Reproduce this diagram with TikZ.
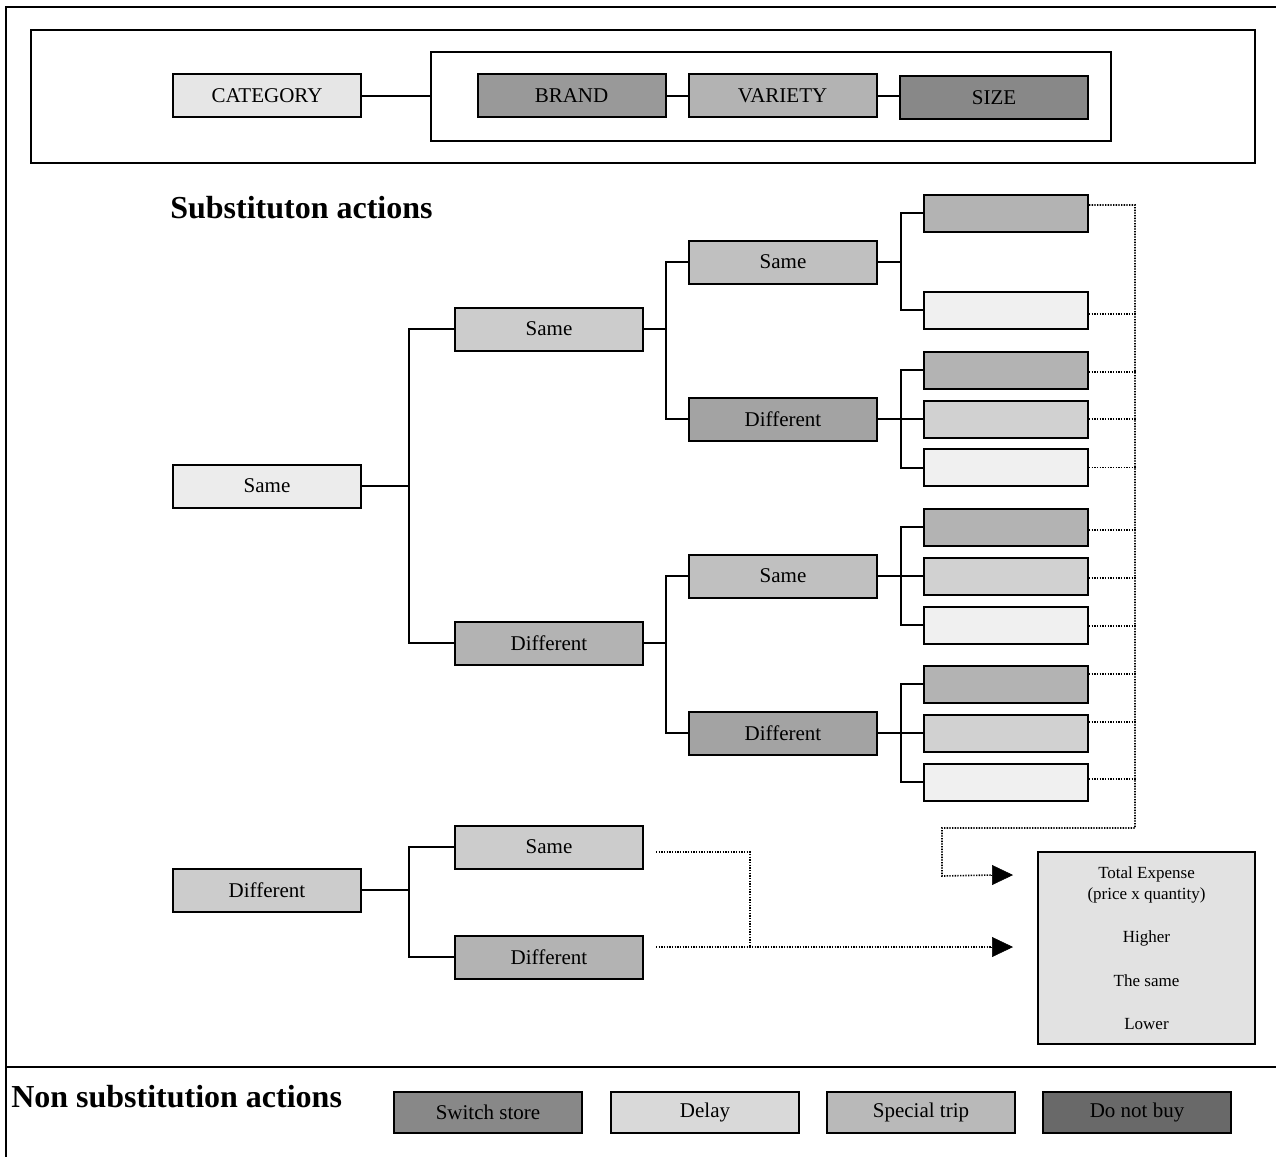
\documentclass[tikz,border=0pt]{standalone}
\usepackage{fontspec}
\setmainfont{Liberation Serif}
\usetikzlibrary{arrows.meta,calc}
\definecolor{cA}{HTML}{E6E6E6}
\definecolor{cB}{HTML}{999999}
\definecolor{cV}{HTML}{B3B3B3}
\definecolor{cS}{HTML}{888888}
\definecolor{gL}{HTML}{ECECEC}
\definecolor{gM}{HTML}{CCCCCC}
\definecolor{gN}{HTML}{B3B3B3}
\definecolor{gP}{HTML}{C0C0C0}
\definecolor{gQ}{HTML}{A3A3A3}
\definecolor{lf1}{HTML}{B3B3B3}
\definecolor{lf2}{HTML}{D1D1D1}
\definecolor{lf3}{HTML}{F0F0F0}
\definecolor{tot}{HTML}{E2E2E2}
\definecolor{bs1}{HTML}{888888}
\definecolor{bs2}{HTML}{D9D9D9}
\definecolor{bs3}{HTML}{B9B9B9}
\definecolor{bs4}{HTML}{696969}
\tikzset{
  box/.style={draw=black, line width=1.5pt, rectangle, inner sep=0pt,
    minimum width=141pt, minimum height=32.25pt, font=\fontsize{15.75}{18}\selectfont},
  leaf/.style={draw=black, line width=1.5pt, rectangle, inner sep=0pt,
    minimum width=123pt, minimum height=27.75pt},
  botbox/.style={box, minimum height=30.75pt},
  conn/.style={line width=1.5pt},
  dotline/.style={line width=1.2pt, dash pattern=on 1pt off 1pt},
  tip/.style={-{Triangle[length=15.75pt,width=15pt]}},
  head/.style={font=\fontsize{24}{28}\selectfont\bfseries, anchor=west, inner sep=0pt},
  small/.style={font=\fontsize{12.75}{15}\selectfont, inner sep=0pt}
}
\begin{document}
\begin{tikzpicture}[x=0.75pt,y=-0.75pt]
\useasboundingbox (0,0) rectangle (1276,1157);
% frame
\draw[line width=1.5pt] (1276,7) -- (6,7) -- (6,1157);
\draw[line width=1.5pt] (6,1067) -- (1276,1067);
% top legend
\node[draw, line width=1.5pt, minimum width=918pt, minimum height=99.75pt, inner sep=0pt] (legend) at (643,96.5) {};
\node[draw, line width=1.5pt, minimum width=510pt, minimum height=66.75pt, inner sep=0pt] (grp) at (771,96.5) {};
\node[box, fill=cA] (cat) at (267,95.5) {CATEGORY};
\node[box, fill=cB] (brand) at (571.5,95.5) {BRAND};
\node[box, fill=cV] (variety) at (782.5,95.5) {VARIETY};
\node[box, fill=cS] (size) at (994,97.5) {SIZE};
\draw[conn] (cat.east) -- (cat.east -| grp.west);
\draw[conn] (brand.east) -- (variety.west);
\draw[conn] (variety.east) -- (variety.east -| size.west);
% headings
\node[head] (subh) at (170,208) {Substituton actions};
\node[head] (nonh) at (11,1097) {Non substitution actions};
% tree
\node[box, fill=gL] (s1) at (267,486) {Same};
\node[box, fill=gM] (d1) at (267,890) {Different};
\node[box, fill=gM] (s2) at (549,329) {Same};
\node[box, fill=gN] (d2) at (549,643) {Different};
\node[box, fill=gP] (s3a) at (783,262) {Same};
\node[box, fill=gQ] (d3a) at (783,419) {Different};
\node[box, fill=gP] (s3b) at (783,576) {Same};
\node[box, fill=gQ] (d3b) at (783,733) {Different};
\node[box, fill=gM] (sB) at (549,847) {Same};
\node[box, fill=gN] (dB) at (549,957) {Different};
% leaves
\node[leaf, fill=lf1] (a1) at (1006,213) {};
\node[leaf, fill=lf3] (a2) at (1006,310) {};
\node[leaf, fill=lf1] (b1) at (1006,370) {};
\node[leaf, fill=lf2] (b2) at (1006,419) {};
\node[leaf, fill=lf3] (b3) at (1006,467.5) {};
\node[leaf, fill=lf1] (c1) at (1006,527) {};
\node[leaf, fill=lf2] (c2) at (1006,576) {};
\node[leaf, fill=lf3] (c3) at (1006,625) {};
\node[leaf, fill=lf1] (e1) at (1006,684) {};
\node[leaf, fill=lf2] (e2) at (1006,733) {};
\node[leaf, fill=lf3] (e3) at (1006,782) {};
% tree connectors
\draw[conn] (s1.east) -- ++(47,0) |- (s2.west);
\draw[conn] (s1.east) -- ++(47,0) |- (d2.west);
\draw[conn] (s2.east) -- ++(22,0) |- (s3a.west);
\draw[conn] (s2.east) -- ++(22,0) |- (d3a.west);
\draw[conn] (d2.east) -- ++(22,0) |- (s3b.west);
\draw[conn] (d2.east) -- ++(22,0) |- (d3b.west);
\draw[conn] (s3a.east) -- ++(23,0) |- (a1.west);
\draw[conn] (s3a.east) -- ++(23,0) |- (a2.west);
\draw[conn] (d3a.east) -- ++(23,0) |- (b1.west);
\draw[conn] (d3a.east) -- (b2.west);
\draw[conn] (d3a.east) -- ++(23,0) |- (b3.west);
\draw[conn] (s3b.east) -- ++(23,0) |- (c1.west);
\draw[conn] (s3b.east) -- (c2.west);
\draw[conn] (s3b.east) -- ++(23,0) |- (c3.west);
\draw[conn] (d3b.east) -- ++(23,0) |- (e1.west);
\draw[conn] (d3b.east) -- (e2.west);
\draw[conn] (d3b.east) -- ++(23,0) |- (e3.west);
\draw[conn] (d1.east) -- ++(47,0) |- (sB.west);
\draw[conn] (d1.east) -- ++(47,0) |- (dB.west);
% total expense box
\node[draw, line width=1.5pt, fill=tot, minimum width=162.75pt, minimum height=144pt, inner sep=0pt] (tot) at (1146.5,948) {};
\node[small] (t1) at (1146.5,874) {Total Expense};
\node[small] (t2) at (1146.5,895) {(price x quantity)};
\node[small] (t3) at (1146.5,938) {Higher};
\node[small] (t4) at (1146.5,981) {The same};
\node[small] (t5) at (1146.5,1024) {Lower};
% dotted bus
\coordinate (busTop) at (1135,205);
\coordinate (busBot) at (1135,828);
\draw[dotline] ($(a1.east)+(0,-8)$) -- (busTop) -- (busBot) -| (942,876) -- ($(tot.north west)+(-45,24)$);
\draw[tip] ($(tot.north west)+(-46,24)$) -- ($(tot.north west)+(-24,24)$);
\draw[dotline] ($(a2.east)+(0,4)$) -- ++(47,0);
\draw[dotline] ($(b1.east)+(0,2)$) -- ++(47,0);
\draw[dotline] (b2.east) -- ++(47,0);
\draw[dotline] (b3.east) -- ++(47,0);
\draw[dotline] ($(c1.east)+(0,3)$) -- ++(47,0);
\draw[dotline] ($(c2.east)+(0,2)$) -- ++(47,0);
\draw[dotline] ($(c3.east)+(0,1)$) -- ++(47,0);
\draw[dotline] ($(e1.east)+(0,-10)$) -- ++(47,0);
\draw[dotline] ($(e2.east)+(0,-11)$) -- ++(47,0);
\draw[dotline] ($(e3.east)+(0,-3)$) -- ++(47,0);
% bottom dotted
\draw[dotline] ($(sB.east)+(12,5)$) -| (750,947);
\draw[dotline] ($(dB.east)+(12,-10)$) -- ($(tot.west)+(-45,-1)$);
\draw[tip] ($(tot.west)+(-46,-1)$) -- ($(tot.west)+(-24,-1)$);
% bottom row
\node[botbox, fill=bs1] (sw) at (488,1112.5) {Switch store};
\node[botbox, fill=bs2] (dl) at (705,1112.5) {Delay};
\node[botbox, fill=bs3] (sp) at (921,1112.5) {Special trip};
\node[botbox, fill=bs4] (dn) at (1137,1112.5) {Do not buy};
\end{tikzpicture}
\end{document}
